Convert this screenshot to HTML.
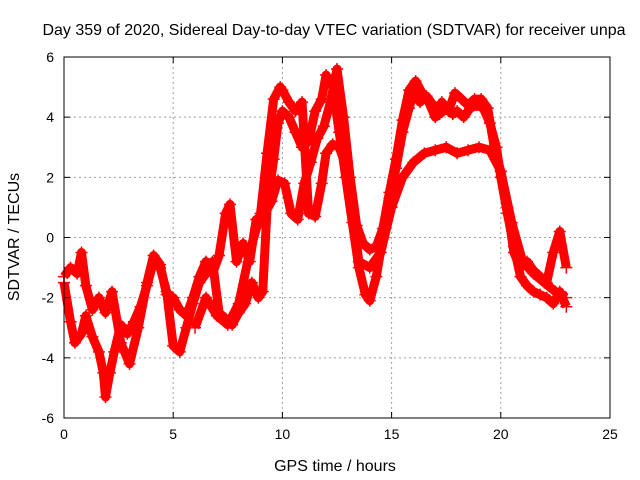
<!DOCTYPE html>
<html><head><meta charset="utf-8"><style>
body{margin:0;background:#fff}
svg{display:block;font-family:"Liberation Sans",sans-serif}
</style></head><body>
<svg width="640" height="480">
<text x="334" y="35" font-size="16" text-anchor="middle">Day 359 of 2020, Sidereal Day-to-day VTEC variation (SDTVAR) for receiver unpa</text>
<g id="grid"></g>
<g id="series"></g>
<rect x="64" y="57" width="546" height="361" fill="none" stroke="#000"/>
<g id="ticks" font-size="14"></g>
<text x="335" y="471" font-size="16" text-anchor="middle">GPS time / hours</text>
<text transform="translate(19,237) rotate(-90)" font-size="16" text-anchor="middle">SDTVAR / TECUs</text>
</svg>
<script>
const xTicks=[0,5,10,15,20,25];
const yTicks=[-6,-4,-2,0,2,4,6];
const t1x=[0,0.3,0.5,0.8,1.0,1.3,1.6,1.8,1.9,2.1,2.3,2.6,2.9,3.2,3.5,3.8,4.1,4.4,4.7,5.0,5.3,5.6,5.9,6.2,6.5,6.8,7.1,7.4,7.7,8.0,8.3,8.6,8.9,9.1,9.3,9.6,9.8,10.0,10.3,10.6,10.9,11.2,11.5,11.8,12.0,12.3,12.6,12.9,13.2,13.5,13.8,14.0,14.3,14.6,14.9,15.2,15.5,15.8,16.0,16.3,16.6,16.9,17.2,17.5,17.8,18.0,18.3,18.6,18.9,19.2,19.5,19.8,20.0,20.3,20.6,20.9,21.2,21.5,21.8,22.1,22.4,22.7,23.0];
const t1y=[-1.5,-2.8,-3.5,-3.2,-2.6,-3.3,-3.8,-4.5,-5.3,-4.5,-3.8,-2.9,-3.2,-2.8,-2.3,-1.6,-0.8,-1.0,-1.8,-3.6,-3.8,-3.0,-2.2,-1.5,-1.2,-0.8,-2.5,-2.7,-2.9,-2.5,-2.2,-1.5,-2.0,-1.8,1.0,2.6,3.8,4.2,4.0,3.5,3.0,3.2,4.2,4.6,5.4,5.0,3.5,2.0,0.5,-1.0,-1.9,-2.1,-1.3,0.0,1.3,2.3,3.5,4.3,4.8,4.5,4.7,4.4,4.1,4.3,4.1,4.2,4.0,4.3,4.4,4.3,3.8,3.0,2.0,0.8,-0.3,-1.3,-1.6,-1.8,-1.9,-2.0,-2.2,-1.8,-2.3];
const t2x=[0,0.3,0.6,0.8,1.0,1.3,1.6,1.9,2.2,2.6,3.0,3.4,3.8,4.1,4.4,4.7,5.0,5.3,5.6,5.9,6.2,6.5,6.8,7.1,7.4,7.6,7.9,8.2,8.5,8.8,9.0,9.2,9.5,9.8,10.1,10.4,10.7,11.0,11.3,11.6,11.9,12.2,12.5,12.8,13.1,13.4,13.7,14.0,14.3,14.6,14.9,15.2,15.5,15.8,16.1,16.4,16.7,17.0,17.3,17.6,17.9,18.2,18.5,18.8,19.1,19.4,19.7,20.0,20.3,20.6,20.9,21.2,21.5,21.8,22.1,22.4,22.7,23.0];
const t2y=[-1.3,-1.0,-1.2,-0.5,-1.6,-2.4,-2.0,-2.5,-1.8,-3.5,-4.2,-3.0,-1.5,-0.6,-0.9,-1.9,-2.0,-2.4,-2.6,-2.0,-1.3,-0.8,-1.2,-0.6,0.8,1.1,-0.8,-0.2,-0.8,0.6,0.5,0.8,1.2,1.9,1.8,0.8,0.6,1.8,2.5,3.3,3.7,4.5,5.6,4.0,2.0,0.4,-0.2,-0.4,-0.3,0.3,1.5,2.6,3.9,4.9,5.2,4.8,4.5,4.0,4.5,4.2,4.8,4.6,4.4,4.6,4.6,4.3,3.0,2.2,1.0,-0.5,-1.0,-0.8,-1.1,-1.3,-1.5,-0.5,0.2,-1.0];
const t3x=[6.0,6.5,7.0,7.5,8.0,8.5,9.0,9.3,9.6,9.9,10.0,10.3,10.6,10.9,11.2,11.5,11.8,12.0,12.3,12.6,12.9,13.2,13.5,14.0,14.5,15.0,15.5,16.0,16.5,17.0,17.5,18.0,18.5,19.0,19.5,20.0,20.5,21.0,21.5,22.0,22.5,23.0];
const t3y=[-3.0,-2.0,-2.6,-2.9,-2.2,-0.5,0.8,2.8,4.6,5.0,4.9,4.5,4.2,4.5,0.8,0.7,1.8,2.8,3.1,3.0,2.4,1.0,-0.8,-1.0,-0.5,1.0,2.0,2.5,2.8,2.9,3.0,2.8,2.9,3.0,2.9,2.2,0.5,-0.8,-1.2,-1.5,-1.8,-2.0];
const L=64,R=610,T=57,B=418;
const sx=v=>L+(v-0)/25*(R-L), sy=v=>B-(v+6)/12*(B-T);
const NS='http://www.w3.org/2000/svg';
function mk(tag,at,parent){const e=document.createElementNS(NS,tag);for(const k in at)e.setAttribute(k,at[k]);parent.appendChild(e);return e;}
const grid=document.getElementById('grid'),ticks=document.getElementById('ticks'),ser=document.getElementById('series');
xTicks.forEach(v=>{const x=sx(v);
 if(v>0&&v<25){const g=mk('line',{x1:x,x2:x,y1:T,y2:B,stroke:'#a0a0a0','stroke-dasharray':'2,3'},grid);}
 const t=mk('text',{x:x,y:B+21,'text-anchor':'middle'},ticks);t.textContent=v;
 
 
 mk('line',{x1:x,x2:x,y1:B,y2:B-6,stroke:'#000'},ticks);mk('line',{x1:x,x2:x,y1:T,y2:T+6,stroke:'#000'},ticks);});
yTicks.forEach(v=>{const y=sy(v);
 if(v>-6&&v<6){const g=mk('line',{x1:L,x2:R,y1:y,y2:y,stroke:'#a0a0a0','stroke-dasharray':'2,3'},grid);}
 const t=mk('text',{x:L-10,y:y+5,'text-anchor':'end'},ticks);t.textContent=v;
 
 
 mk('line',{x1:L,x2:L+6,y1:y,y2:y,stroke:'#000'},ticks);mk('line',{x1:R,x2:R-6,y1:y,y2:y,stroke:'#000'},ticks);});
[[t1x,t1y],[t2x,t2y],[t3x,t3y]].forEach((s,i)=>{
 const pts=s[0].map((x,j)=>sx(x)+','+sy(s[1][j])).join(' ');
 const pl=mk('polyline',{points:pts,fill:'none',stroke:'#ff0000','stroke-width':9,'stroke-linejoin':'round'},ser);
 
 
 s[0].forEach((x,j)=>{const cx=sx(x),cy=sy(s[1][j]);
  const p=mk('path',{d:`M${cx-6},${cy}h12M${cx},${cy-6}v12`,stroke:'#ff0000','stroke-width':1.5},ser);
  
  });
});
</script>
</body></html>
